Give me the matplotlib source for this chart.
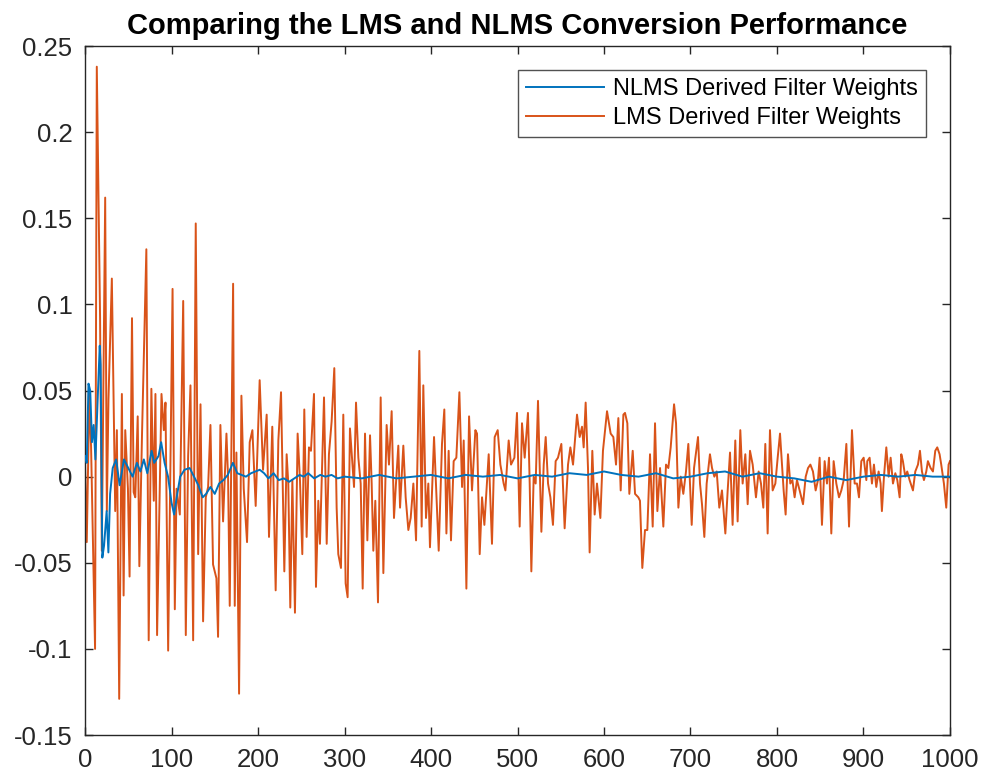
import matplotlib
matplotlib.use("Agg")
import matplotlib.pyplot as plt

# values (sample index, weight)
lms_x = [0, 2, 5, 7, 11.6, 13.6, 17.4, 19.4, 23.3, 25.2, 27.1, 31, 34.9, 36.8, 39.5,
         42.6, 44.6, 46.5, 49.6, 51.5, 54.3, 56.2, 58.1, 60.9, 62.8, 65.9, 70.9, 73.6,
         76.7, 79.5, 81.4, 83.3, 88.4, 91.1, 93, 96.1,
         101.2, 103.8, 105.8, 109.6, 113.5, 116.5, 119.2, 121.9, 125, 128, 130.8, 133.5,
         136.5, 139.6, 142.3, 145, 148, 151.9, 153.8, 156.5, 159.6, 163.5, 165.4, 167.3,
         171.2, 173.1, 175, 178.1, 180.8, 183.5, 187.3, 190.4, 193.5, 197.3, 201.9, 205.8,
         210, 212.7, 216.5, 220.4, 223.5, 226.6, 230.4, 233.1, 235, 237.3, 239.7, 242.7,
         245.8, 248.5, 251.2, 253.5, 256.2, 258.9, 261.2, 264.7, 267, 269.7, 271.6, 276.3,
         279.4, 282, 285.1, 288.2, 290.9, 292.8, 295.9, 298.6, 301.3, 303.6, 306.3,
         311, 313.3, 316, 318.7, 321, 323.7, 326.4, 329.5, 331.4, 333.3, 335.6, 338.7,
         341.8, 344.9, 348.7, 351.4, 354.5, 357.2, 359.5, 362.2, 364.2, 368, 370.7, 373.8,
         376.5, 379.6, 382.7, 386.5, 389.2, 391.1, 394.2, 396.9, 398.8, 403.5,
         408.9, 412.7, 415.4, 417.8, 420.4, 423.1, 426.2, 429.3, 432.8, 435.9, 437.8,
         440.9, 444, 447.4, 451.3, 453.2, 456.3, 459, 461.7, 466.7, 470.5, 473.6, 477.1,
         480.2, 484, 486, 489.8, 492.5, 496.4, 499.4, 502.5, 505.2,
         508.3, 512.1, 514.1, 516, 518.7, 521, 523.7, 527.6, 530.3, 532.6, 535.3, 538,
         541, 544.1, 546.8, 550.7, 554.5, 558.4, 561.1, 564.2, 568.8, 571.9, 574.6, 576.5,
         578.8, 581.5, 583.4, 586.5, 589.2, 591.9, 595.8, 598.8, 603.5,
         607.7, 610.8, 613.9, 616.6, 619.3, 622.4, 624.3, 627, 629.3, 633.2, 635.9, 639.7,
         641.6, 644.3, 647.4, 650.1, 653.2, 656.3, 659, 661.7, 664.8, 668.6, 671.7, 674.4,
         677.1, 681, 683.3, 686, 688.7, 691.7, 694.8, 697.5, 701.4, 704.1,
         708.7, 711, 713.3, 716, 718.7, 722.5, 724.9, 727.6, 730.3, 733.3, 736.4, 740.3,
         743, 745.7, 748.7, 751.8, 754.5, 757.6, 760.3, 763.4, 766.1, 768.8, 771.9, 775.7,
         778.8, 781.5, 784.2, 786.5, 789.2, 791.9, 795, 798.1, 800.8, 803.5,
         807.7, 810, 812.7, 815.4, 817.8, 820.4, 823.1, 826.2, 830.1, 833.2, 835.9, 838.6,
         841.6, 844.7, 847.4, 849.3, 852, 855.1, 857.8, 860.1, 862.8, 865.5, 868.6, 871.7,
         874.4, 877.1, 880.2, 883.3, 886.7, 889.8, 892.5, 894.8, 897.5, 900.2, 903.3,
         904.4, 907.1, 909.8, 912.1, 914.8, 917.5, 919.8, 921.3, 923.7, 926.4, 929.1,
         931.4, 934.1, 936.8, 939.1, 941.8, 943.7, 945.6, 948.3, 950.6, 953.3, 957.2,
         959.9, 963, 965.3, 967.6, 969.9, 972.6, 974.5, 977.6, 980.3, 983, 985.3, 988,
         989.9, 993, 995.7, 998.4, 1000]
lms_y = [0.008, -0.038, 0.048, 0.017, -0.100, 0.238, 0.092, -0.043, 0.162, -0.020, 0.045,
         0.115, -0.020, 0.027, -0.129, 0.048, -0.069, 0.027, -0.007, -0.058, 0.092, -0.009,
         -0.012, 0.035, -0.052, 0.025, 0.132, -0.095, 0.051, -0.014, 0.048, -0.092, 0.048,
         0.027, 0.043, -0.101,
         0.109, -0.077, -0.007, -0.022, 0.102, -0.092, 0.012, 0.053, -0.095, 0.147, -0.045,
         0.042, -0.084, -0.012, -0.006, 0.030, -0.051, -0.059, -0.093, 0.030, -0.026, 0.025,
         -0.001, -0.075, 0.112, -0.075, 0.014, -0.126, 0.047, -0.007, -0.038, 0.020, 0.027,
         -0.017, 0.056, 0.004,
         0.036, -0.035, 0.029, -0.066, 0.021, 0.049, -0.055, 0.013, -0.004, -0.076, -0.002,
         -0.079, 0.025, -0.002, -0.045, 0.039, -0.035, 0.017, 0.015, 0.048, -0.064, -0.014,
         -0.039, 0.046, -0.039, 0.013, 0.032, 0.063, -0.018, -0.045, -0.053, 0.036, -0.062,
         -0.070, 0.028,
         -0.006, 0.043, 0.011, -0.004, -0.065, 0.025, -0.037, 0.024, -0.004, -0.043, -0.014,
         -0.073, 0.046, -0.056, 0.030, 0.007, 0.038, -0.024, -0.004, 0.018, -0.018, 0.018,
         -0.012, -0.031, -0.024, -0.004, -0.037, 0.073, -0.029, 0.053, -0.024, -0.004,
         -0.041, 0.023,
         -0.043, 0.019, 0.039, -0.033, 0.015, -0.037, 0.009, 0.011, 0.049, -0.006, 0.021,
         -0.065, 0.035, -0.008, 0.027, 0.025, -0.045, -0.012, -0.028, 0.013, -0.039, 0.023,
         0.027, 0.007, -0.004, -0.008, 0.021, 0.007, 0.011, 0.037, -0.029, 0.031,
         0.011, 0.037, -0.004, -0.055, 0.000, -0.004, 0.044, -0.032, 0.007, 0.023, -0.004,
         -0.012, -0.028, 0.009, 0.011, 0.019, -0.030, 0.007, 0.017, 0.007, 0.036, 0.023,
         0.029, 0.017, 0.043, 0.005, -0.044, 0.015, -0.022, -0.004, -0.024, 0.015, 0.038,
         0.025, 0.023, 0.007, 0.034, -0.008, 0.036, 0.037, 0.031, -0.010, 0.015, -0.010,
         -0.012, -0.014, -0.053, -0.031, -0.031, 0.013, -0.029, 0.031, -0.020, 0.005,
         -0.029, 0.007, 0.005, 0.017, 0.042, 0.031, -0.018, 0.000, -0.010, 0.003, 0.019,
         -0.028, 0.005,
         0.023, -0.004, -0.016, -0.035, -0.004, 0.013, 0.005, 0.000, 0.003, -0.018, -0.008,
         -0.033, -0.008, 0.014, -0.028, 0.021, -0.026, 0.027, -0.004, 0.013, -0.016, 0.015,
         0.007, -0.012, 0.003, -0.004, -0.018, 0.019, -0.033, 0.027, -0.008, -0.004, 0.011,
         0.025,
         -0.008, -0.022, 0.013, -0.004, -0.002, -0.012, -0.002, -0.008, -0.016, 0.000, 0.005,
         0.007, 0.003, -0.008, -0.002, 0.011, -0.028, 0.009, -0.004, 0.011, -0.033, 0.009,
         -0.004, -0.012, -0.008, -0.002, 0.019, -0.029, 0.027, -0.004, -0.004, -0.012,
         0.009, 0.011, -0.002,
         0.009, 0.011, -0.004, 0.007, -0.006, 0.003, -0.004, -0.020, 0.000, 0.017, 0.000,
         0.011, -0.004, 0.002, -0.002, -0.012, 0.013, 0.009, 0.000, 0.003, -0.002, -0.008,
         0.003, 0.007, 0.015, 0.003, -0.002, 0.003, 0.009, 0.005, 0.003, 0.015, 0.017, 0.013,
         0.007, -0.004, -0.018, 0.007, 0.009]

nlms_x = [0, 2, 4, 6, 8, 10, 12, 15, 17, 18, 20, 22, 25, 27, 29, 32, 36, 40, 45, 50, 55,
          60, 64, 68, 72, 77, 80, 85, 88, 92, 96, 100, 103, 106, 110, 115, 121, 126, 131,
          136, 140, 145, 150, 155, 160, 165, 171, 176, 181, 186, 192, 197, 202, 207, 212,
          218, 224, 230, 236, 242, 248, 253, 258, 265, 272, 278, 285, 292,
          300, 320, 340, 360, 380, 400, 420, 440, 460, 480, 500, 520, 540, 560, 580, 600,
          620, 640, 660, 680, 700, 720, 740, 760, 780, 800, 820, 840, 860, 880, 900, 920,
          940, 960, 980, 1000]
nlms_y = [0.012, 0.008, 0.054, 0.050, 0.020, 0.030, 0.010, 0.050, 0.076, 0.065, -0.047,
          -0.040, -0.020, -0.044, -0.010, 0.005, 0.010, -0.005, 0.010, 0.005, 0.000, 0.008,
          0.003, 0.010, 0.002, 0.015, 0.008, 0.012, 0.020, 0.008, 0.000, -0.015, -0.022,
          -0.012, 0.000, 0.004, 0.005, 0.000, -0.005, -0.012, -0.010, -0.006, -0.010,
          -0.004, -0.002, 0.001, 0.008, 0.002, 0.001, 0.000, 0.002, 0.003, 0.004, 0.002,
          -0.001, 0.002, -0.002, -0.001, -0.003, -0.001, 0.001, 0.000, 0.002, -0.001,
          0.001, 0.000, 0.001, -0.001,
          0.000, -0.001, 0.001, -0.001, 0.000, 0.001, -0.001, 0.001, 0.000, 0.001, -0.001,
          0.001, 0.000, 0.002, 0.001, 0.003, 0.001, 0.000, 0.002, -0.001, 0.000, 0.002,
          0.003, 0.000, 0.002, 0.000, -0.001, -0.003, 0.000, -0.002, 0.000, 0.001, 0.000,
          0.001, 0.000, 0.000]

plt.rcParams['font.family'] = ['Liberation Sans', 'DejaVu Sans']

fig = plt.figure(figsize=(9.83, 7.76), dpi=100)
ax = fig.add_axes([0.0865, 0.0528, 0.8799, 0.8879])

ax.plot(nlms_x, nlms_y, color='#0072BD', lw=1.4, label='NLMS Derived Filter Weights', zorder=3)
ax.plot(lms_x, lms_y, color='#D95319', lw=1.4, label='LMS Derived Filter Weights', zorder=2)

ax.set_xlim(0, 1000)
ax.set_ylim(-0.15, 0.25)
ax.set_xticks(range(0, 1001, 100))
ax.set_yticks([-0.15, -0.1, -0.05, 0, 0.05, 0.1, 0.15, 0.2, 0.25])
ax.set_yticklabels(['-0.15', '-0.1', '-0.05', '0', '0.05', '0.1', '0.15', '0.2', '0.25'])
ax.tick_params(direction='in', top=True, right=True, length=6, width=1,
               labelsize=18.5, colors='#262626', pad=9)
for s in ax.spines.values():
    s.set_color('#262626')
    s.set_linewidth(1)

ax.set_title('Comparing the LMS and NLMS Conversion Performance',
             fontsize=21, fontweight='bold', pad=9)

leg = ax.legend(loc='upper right', fontsize=17, frameon=True, fancybox=False,
                edgecolor='#262626', handlelength=3.3, borderaxespad=1.0,
                labelspacing=0.3, borderpad=0.35, handletextpad=0.4)
leg.get_frame().set_linewidth(1)

fig.savefig('out.png', dpi=100)
